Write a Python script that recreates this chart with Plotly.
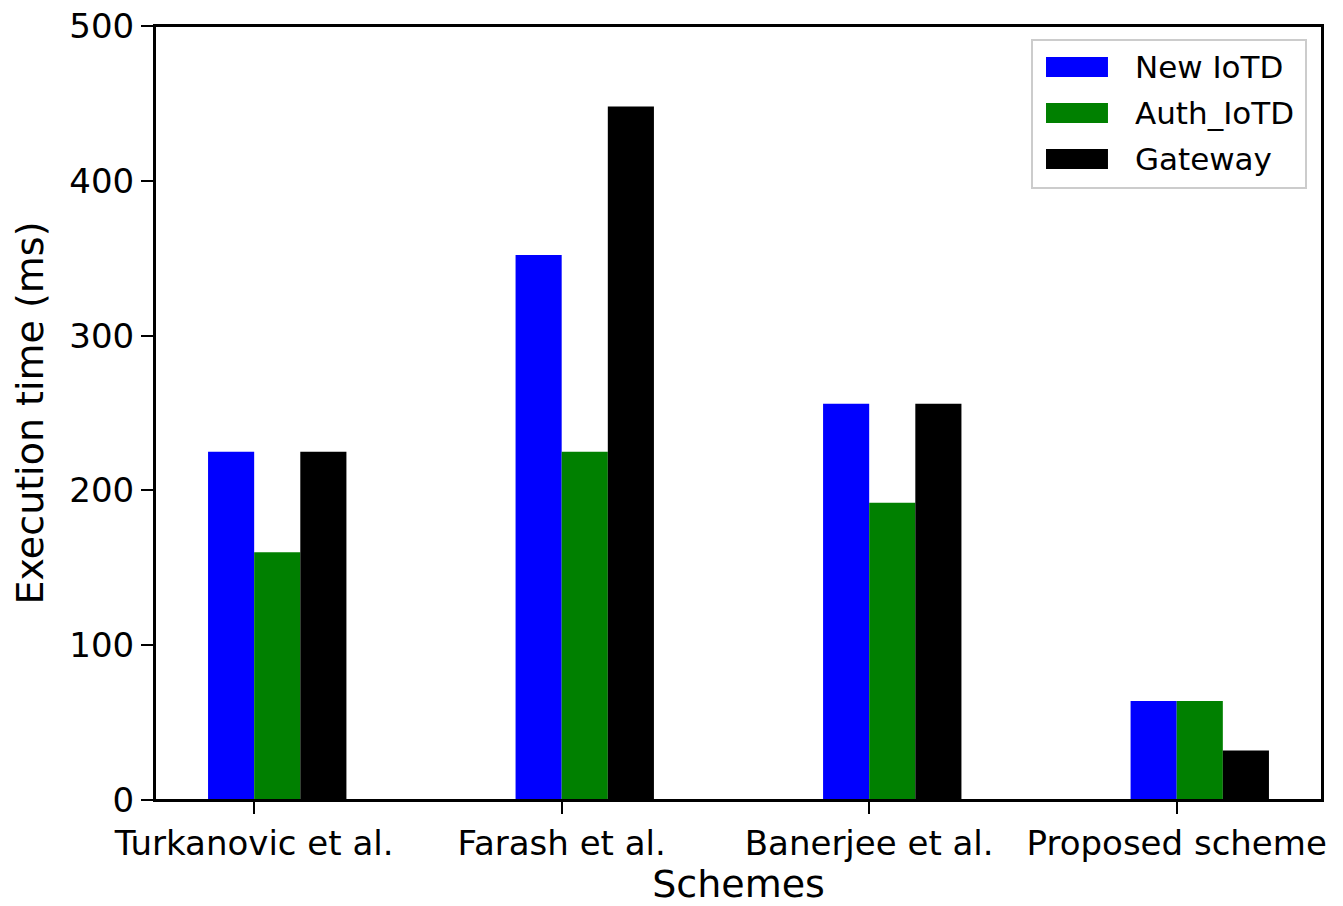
import plotly.graph_objects as go

categories = ["Turkanovic et al.", "Farash et al.", "Banerjee et al.", "Proposed scheme"]
new_iotd = [225, 352, 256, 64]
auth_iotd = [160, 225, 192, 64]
gateway = [225, 448, 256, 32]

series = [("New IoTD", new_iotd, "#0000ff"),
          ("Auth_IoTD", auth_iotd, "#008000"),
          ("Gateway", gateway, "#000000")]

w = 0.15
offsets = [-0.075, 0.075, 0.225]

fig = go.Figure()
for (name, vals, col), off in zip(series, offsets):
    fig.add_trace(go.Bar(
        x=[i + off for i in range(len(categories))], y=vals, name=name,
        width=w, marker=dict(color=col, line=dict(width=0)), showlegend=False,
        cliponaxis=False,
    ))

# manual legend (matplotlib-like wide swatches)
fig.add_shape(type="rect", xref="paper", yref="paper",
              x0=0.7515, x1=0.9863, y0=0.7907, y1=0.9819,
              line=dict(color="#cccccc", width=2), fillcolor="white", layer="above")
row_y = [0.9470, 0.8876, 0.8282]
for (name, vals, col), yy in zip(series, row_y):
    fig.add_shape(type="rect", xref="paper", yref="paper",
                  x0=0.7635, x1=0.8166, y0=yy - 0.0129, y1=yy + 0.0129,
                  line=dict(width=0), fillcolor=col, layer="above")
    fig.add_annotation(xref="paper", yref="paper", x=0.8380, y=yy,
                       xanchor="left", yanchor="middle", text=name, showarrow=False,
                       font=dict(family="DejaVu Sans", size=31, color="black"))

# plot frame (top/right spines)
fig.add_shape(type="rect", xref="paper", yref="paper", x0=0, x1=1, y0=0, y1=1,
              line=dict(color="black", width=2), layer="above")

tick_font = dict(family="DejaVu Sans", size=34, color="black")
title_font = dict(family="DejaVu Sans", size=38, color="black")
fig.update_layout(
    width=1335, height=898,
    margin=dict(l=147, r=21, t=18, b=106, autoexpand=False),
    plot_bgcolor="white", paper_bgcolor="white",
    font=tick_font,
    xaxis=dict(range=[-0.3225, 3.4725], tickmode="array",
               tickvals=list(range(len(categories))), ticktext=categories,
               tickfont=tick_font, ticklabeloverflow="allow", automargin=False,
               showline=True, linecolor="black", linewidth=2, mirror=True,
               ticks="outside", ticklen=12, tickwidth=2, tickcolor="black",
               showgrid=False, zeroline=False,
               title=dict(text="Schemes", font=title_font, standoff=6)),
    yaxis=dict(range=[0, 500], dtick=100, tickfont=tick_font,
               ticklabeloverflow="allow", automargin=False,
               showline=True, linecolor="black", linewidth=2, mirror=True,
               ticks="outside", ticklen=12, tickwidth=2, tickcolor="black",
               showgrid=False, zeroline=False,
               title=dict(text="Execution time (ms)", font=title_font, standoff=14)),
)
fig.write_html("out.html")
